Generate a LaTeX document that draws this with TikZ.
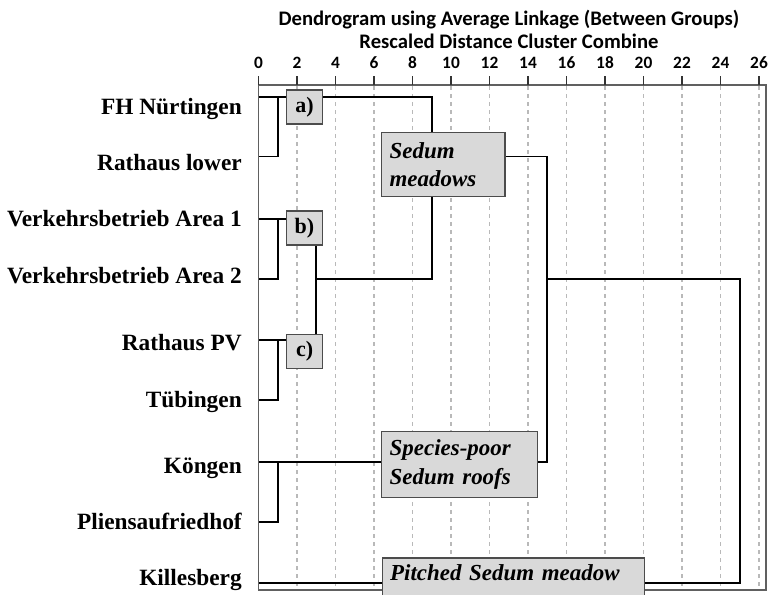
\documentclass[tikz,border=0pt]{standalone}
\usepackage{fontspec}
\setmainfont{Liberation Serif}
\newfontfamily\axisfont{Carlito}
\begin{document}
\begin{tikzpicture}[x=0.75pt,y=-0.75pt,
  gridline/.style={draw=gray!55, line width=0.8pt, dash pattern=on 3pt off 3pt},
  framebox/.style={draw=gray!75!black, line width=1pt},
  link/.style={draw=black, line width=1.4pt},
  tickmark/.style={draw=black!80, line width=1pt},
  leaf/.style={anchor=base east, font=\fontsize{17.5pt}{20pt}\selectfont\bfseries, inner sep=0pt},
  tag/.style={draw=black!70, fill=gray!30, line width=0.8pt, font=\fontsize{16.5pt}{19pt}\selectfont\bfseries, minimum width=26.7pt, minimum height=25.5pt, inner sep=0pt},
  group/.style={draw=black!70, fill=gray!30, line width=0.8pt, font=\fontsize{17.2pt}{21.5pt}\selectfont\bfseries\itshape, align=left, inner xsep=6pt, inner ysep=0pt},
  ticklabel/.style={font=\axisfont\fontsize{13pt}{15pt}\selectfont\bfseries, inner sep=0pt},
  titletext/.style={font=\axisfont\fontsize{15.5pt}{18pt}\selectfont\bfseries, inner sep=0pt}
]
\useasboundingbox (0,0) rectangle (769,594);
\clip (0,0) rectangle (769,594);

% title
\node[titletext] (title1) at (509,20) {Dendrogram using Average Linkage (Between Groups)};
\node[titletext] (title2) at (509,41.7) {Rescaled Distance Cluster Combine};

% grid
\foreach \u in {2,4,...,26} {
  \draw[gridline] ({258.5+19.25*\u},86) -- ({258.5+19.25*\u},590);
}
% frame
\draw[framebox] (258.5,85) -- (766,85) -- (766,590) -- (258.5,590) -- cycle;
% ticks
\foreach \u in {0,2,...,26} {
  \draw[tickmark] ({258.5+19.25*\u},76) -- ({258.5+19.25*\u},85);
  \node[ticklabel] (t\u) at ({258.5+19.25*\u},63) {\u};
}

% leaves
\coordinate (L1) at (258.5,97);
\coordinate (L2) at (258.5,156.5);
\coordinate (L3) at (258.5,219);
\coordinate (L4) at (258.5,279);
\coordinate (L5) at (258.5,340);
\coordinate (L6) at (258.5,400);
\coordinate (L7) at (258.5,462);
\coordinate (L8) at (258.5,522);
\coordinate (L9) at (258.5,583);
% merges
\coordinate (m12a) at (277.75,97);
\coordinate (m12b) at (277.75,156.5);
\coordinate (m34a) at (277.75,219);
\coordinate (m34b) at (277.75,279);
\coordinate (m56a) at (277.75,340);
\coordinate (m56b) at (277.75,400);
\coordinate (m78a) at (277.75,462);
\coordinate (m78b) at (277.75,522);
\coordinate (c3top) at (316.25,219);
\coordinate (c3mid) at (316.25,279);
\coordinate (c3bot) at (316.25,340);
\coordinate (c9top) at (431.75,97);
\coordinate (c9out) at (431.75,156.5);
\coordinate (c9bot) at (431.75,279);
\coordinate (c15top) at (547.25,156.5);
\coordinate (c15mid) at (547.25,279);
\coordinate (c15bot) at (547.25,462);
\coordinate (c25top) at (739.75,279);
\coordinate (c25bot) at (739.75,583);

\draw[link] (L1) -- (c9top) -- (c9bot) -- (c3mid);
\draw[link] (m12a) -- (m12b) -- (L2);
\draw[link] (L3) -- (c3top) -- (c3bot) -- (L5);
\draw[link] (m34a) -- (m34b) -- (L4);
\draw[link] (m56a) -- (m56b) -- (L6);
\draw[link] (c9out) -- (c15top) -- (c15bot) -- (L7);
\draw[link] (m78a) -- (m78b) -- (L8);
\draw[link] (c15mid) -- (c25top) -- (c25bot) -- (L9);

% boxes
\node[tag] (ta) at (304.5,107) {a)};
\node[tag] (tb) at (304.5,228) {b)};
\node[tag] (tc) at (304.7,351.7) {c)};
\node[group, minimum width=92.5pt, text width=80.5pt, minimum height=48.3pt] (sedum) at (443.3,164.5) {Sedum\\meadows};
\node[group, minimum width=116.7pt, text width=104.7pt, minimum height=49.2pt] (poor) at (459.5,464.5) {Species-poor\\Sedum roofs};
\node[group, anchor=base west, text width=184.7pt, text height=16.5pt, text depth=15pt] (pitched) at (381.7,580) {Pitched Sedum meadow};

% leaf labels
\node[leaf] (n1) at (242,114) {FH Nürtingen};
\node[leaf] (n2) at (242,170) {Rathaus lower};
\node[leaf] (n3) at (242,226.5) {Verkehrsbetrieb Area 1};
\node[leaf] (n4) at (242,283.5) {Verkehrsbetrieb Area 2};
\node[leaf] (n5) at (242,350.5) {Rathaus PV};
\node[leaf] (n6) at (242,407.5) {Tübingen};
\node[leaf] (n7) at (242,473.5) {Köngen};
\node[leaf] (n8) at (242,529.5) {Pliensaufriedhof};
\node[leaf] (n9) at (242,585.5) {Killesberg};
\end{tikzpicture}
\end{document}
